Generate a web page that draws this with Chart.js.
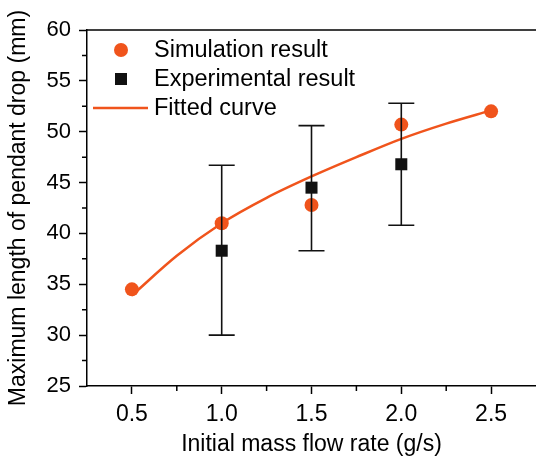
<!DOCTYPE html>
<html>
<head>
<meta charset="utf-8">
<script src="https://cdn.jsdelivr.net/npm/chart.js@4.4.1/dist/chart.umd.min.js"></script>
<style>
  html, body { margin: 0; padding: 0; background: #fff; overflow: hidden; }
  canvas { display: block; }
</style>
</head>
<body>
<canvas id="chart-1" width="536" height="458"></canvas>
<script>
const flowRate = [0.5, 1.0, 1.5, 2.0, 2.5];
const simulation = [34.5, 41.0, 42.8, 50.7, 52.0];

const expRate = [1.0, 1.5, 2.0];
const experimental = [38.3, 44.5, 46.8];
const expLow = [30.0, 38.3, 40.8];
const expHigh = [46.7, 50.6, 52.8];

const fitRate = [0.5, 0.75, 1.0, 1.25, 1.5, 1.75, 2.0, 2.25, 2.5];
const fitted = [33.9, 37.8, 41.0, 43.5, 45.6, 47.5, 49.3, 50.8, 52.1];

const xTicks = [0.5, 1.0, 1.5, 2.0, 2.5];
const xMinor = [0.75, 1.25, 1.75, 2.25];
const yMinor = [27.5, 32.5, 37.5, 42.5, 47.5, 52.5, 57.5];

const orange = '#f0541c';
const font = 'Arial, "Liberation Sans", sans-serif';

const extras = {
  id: 'extras',
  beforeDatasetDraw(chart, args) {
    if (args.index !== 0) return;
    const c = chart.ctx, x = chart.scales.x, y = chart.scales.y;
    c.save();
    c.strokeStyle = '#111';
    c.lineWidth = 1.6;
    expRate.forEach((r, i) => {
      const px = x.getPixelForValue(r);
      const top = y.getPixelForValue(expHigh[i]);
      const bot = y.getPixelForValue(expLow[i]);
      c.beginPath();
      c.moveTo(px, top); c.lineTo(px, bot);
      c.moveTo(px - 13, top); c.lineTo(px + 13, top);
      c.moveTo(px - 13, bot); c.lineTo(px + 13, bot);
      c.stroke();
    });
    c.restore();
  },
  afterDraw(chart) {
    const c = chart.ctx, a = chart.chartArea, x = chart.scales.x, y = chart.scales.y;
    c.save();
    c.strokeStyle = '#000';
    c.lineWidth = 1.5;
    c.beginPath();
    c.moveTo(a.left, a.top); c.lineTo(a.right, a.top);
    xMinor.forEach(v => {
      const px = x.getPixelForValue(v);
      c.moveTo(px, a.bottom); c.lineTo(px, a.bottom + 5);
    });
    yMinor.forEach(v => {
      const py = y.getPixelForValue(v);
      c.moveTo(a.left, py); c.lineTo(a.left - 5, py);
    });
    c.stroke();

    // legend
    c.fillStyle = orange;
    c.beginPath(); c.arc(121, 50, 7, 0, Math.PI * 2); c.fill();
    c.fillStyle = '#111';
    c.fillRect(115, 73, 12, 12);
    c.strokeStyle = orange;
    c.lineWidth = 2.5;
    c.beginPath(); c.moveTo(93, 108); c.lineTo(148, 108); c.stroke();
    c.fillStyle = '#000';
    c.font = '23.5px ' + font;
    c.textBaseline = 'alphabetic';
    c.fillText('Simulation result', 154, 57);
    c.fillText('Experimental result', 154, 86);
    c.fillText('Fitted curve', 154, 115);
    c.restore();
  }
};

const ctx = document.getElementById('chart-1');

new Chart(ctx, {
  type: 'scatter',
  data: {
    datasets: [{
      label: 'Experimental result',
      data: expRate.map((r, i) => ({x: r, y: experimental[i]})),
      pointStyle: 'rect',
      pointRadius: 8.5,
      backgroundColor: '#111',
      borderWidth: 0
    }, {
      label: 'Fitted curve',
      data: fitRate.map((r, i) => ({x: r, y: fitted[i]})),
      showLine: true,
      cubicInterpolationMode: 'monotone',
      borderColor: orange,
      borderWidth: 2.5,
      pointRadius: 0
    }, {
      label: 'Simulation result',
      data: flowRate.map((r, i) => ({x: r, y: simulation[i]})),
      pointStyle: 'circle',
      pointRadius: 7,
      backgroundColor: orange,
      borderWidth: 0
    }]
  },
  options: {
    responsive: false,
    animation: false,
    layout: { autoPadding: false, padding: { top: 30, right: 0, left: 0, bottom: 0 } },
    plugins: { legend: { display: false }, tooltip: { enabled: false } },
    scales: {
      x: {
        type: 'linear',
        min: 0.25,
        max: 2.75,
        afterBuildTicks: s => { s.ticks = xTicks.map(v => ({value: v})); },
        afterFit: s => { s.height = 72; },
        ticks: {
          color: '#000',
          font: { family: font, size: 23 },
          padding: 7,
          callback: v => v.toFixed(1)
        },
        grid: { drawOnChartArea: false, tickLength: 8, tickColor: '#000', tickWidth: 1.5 },
        border: { color: '#000', width: 1.5 },
        title: {
          display: true,
          text: 'Initial mass flow rate (g/s)',
          color: '#000',
          font: { family: font, size: 23 },
          padding: { top: 0, bottom: 0 }
        }
      },
      y: {
        min: 25,
        max: 60,
        afterFit: s => { s.width = 87; },
        ticks: {
          stepSize: 5,
          color: '#000',
          font: { family: font, size: 22 },
          padding: 8
        },
        grid: { drawOnChartArea: false, tickLength: 8, tickColor: '#000', tickWidth: 1.5 },
        border: { color: '#000', width: 1.5 },
        title: {
          display: true,
          text: 'Maximum length of pendant drop (mm)',
          color: '#000',
          font: { family: font, size: 23 },
          padding: { top: 5, bottom: 0 }
        }
      }
    }
  },
  plugins: [extras]
});
</script>
</body>
</html>
